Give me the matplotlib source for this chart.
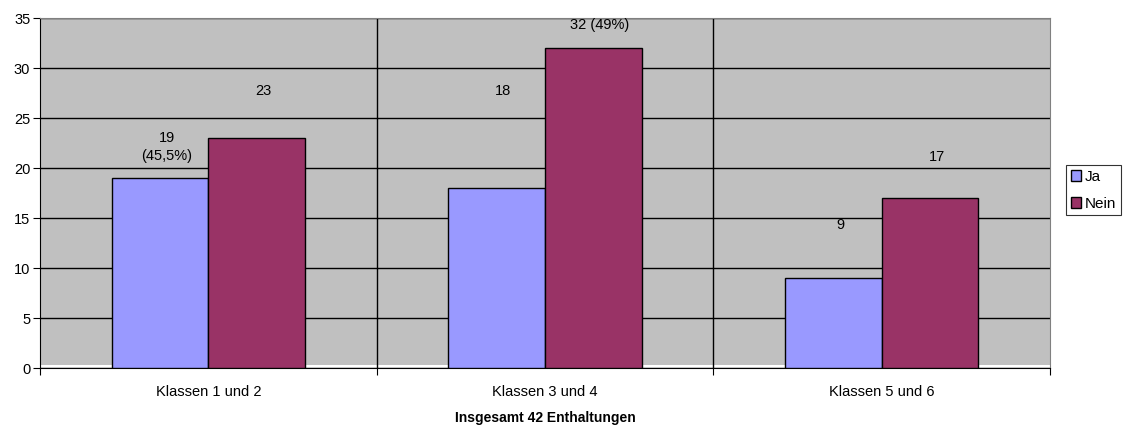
import numpy as np
import matplotlib
matplotlib.use('Agg')
from matplotlib import pyplot as plt

# Daten
klassen = ['Klassen 1 und 2', 'Klassen 3 und 4', 'Klassen 5 und 6']
ja = [19, 18, 9]
nein = [23, 32, 17]
ja_labels = ['19\n(45,5%)', '18', '9']
nein_labels = ['23', '32 (49%)', '17']
titel = 'Insgesamt 42 Enthaltungen'

plt.rcParams['font.family'] = ['Liberation Sans', 'DejaVu Sans']

fig = plt.figure(figsize=(11.25, 4.3), dpi=100)
ax = fig.add_axes([40 / 1125, 62 / 430, 1010 / 1125, 350 / 430])

ax.set_facecolor('white')
ax.axhspan(0.3, 35, color='#C0C0C0', zorder=0, lw=0)

x = np.arange(len(klassen))
w = 0.287
ax.bar(x - w / 2, ja, w, color='#9999FF', edgecolor='black', lw=1, zorder=3, label='Ja')
ax.bar(x + w / 2, nein, w, color='#993366', edgecolor='black', lw=1, zorder=3, label='Nein')

# Beschriftungen (manuell verschoben wie im Original)
ja_off = [3.1, 9.7, 5.3]
nein_off = [4.7, 2.3, 4.1]
for i in range(len(klassen)):
    ax.text(x[i] - w / 2 + 0.02, ja[i] + ja_off[i], ja_labels[i], ha='center', va='center',
            fontsize=10.5, linespacing=1.3, zorder=4)
    ax.text(x[i] + w / 2 + 0.02, nein[i] + nein_off[i], nein_labels[i], ha='center', va='center',
            fontsize=10.5, zorder=4)

ax.set_ylim(0, 35)
ax.set_xlim(-0.5, 2.5)
ax.set_yticks(range(0, 36, 5))
ax.yaxis.grid(True, color='black', lw=1, zorder=1)
for sep in [0.5, 1.5]:
    ax.axvline(sep, color='black', lw=1, zorder=1)

ax.set_xticks([-0.5, 0.5, 1.5, 2.5])
ax.set_xticklabels([])
ax.set_xticks(x, minor=True)
ax.set_xticklabels(klassen, minor=True, fontsize=10.5)
ax.tick_params(axis='x', which='minor', length=0, pad=12)
ax.tick_params(axis='x', which='major', length=5, direction='out', color='black')
ax.tick_params(axis='y', length=5, direction='out', labelsize=10.5, pad=2)

for s in ['top', 'right']:
    ax.spines[s].set_color('#808080')
for s in ['left', 'bottom']:
    ax.spines[s].set_color('black')

fig.text(545 / 1125, 12 / 430, titel, ha='center', va='center', fontsize=10, fontweight='bold')

leg = ax.legend(loc='upper left', bbox_to_anchor=(1026 / 1010, 0.58), frameon=True, fancybox=False,
                edgecolor='black', fontsize=11, handlelength=0.7, handleheight=0.7,
                handletextpad=0.25, borderpad=0.3, borderaxespad=0, labelspacing=0.85)
leg.get_frame().set_linewidth(0.8)

fig.savefig('out.png', dpi=100)
